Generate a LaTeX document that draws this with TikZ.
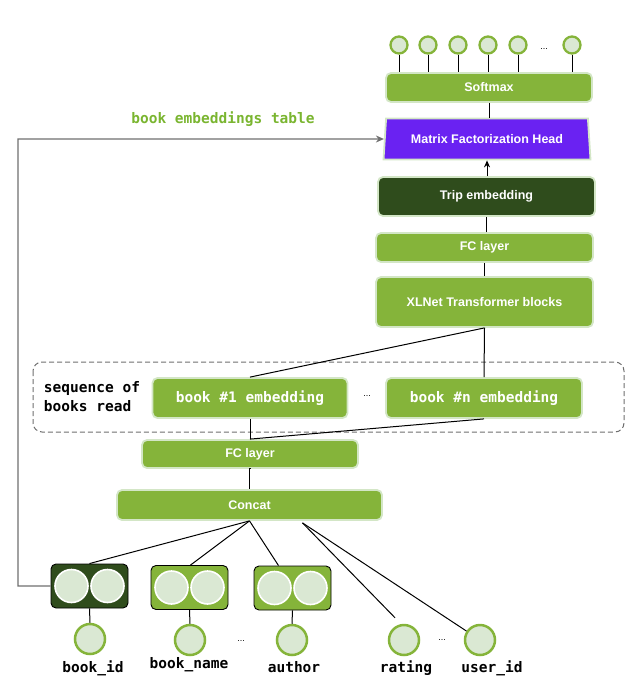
\documentclass[tikz,border=0pt]{standalone}
\usepackage{fontspec}
\setmainfont{Liberation Sans}
\newfontfamily\monob{DejaVu Sans Mono}
\usetikzlibrary{shapes.geometric,arrows.meta,calc}
\definecolor{gfill}{HTML}{85B43A}
\definecolor{gedge}{HTML}{D3E6C6}
\definecolor{dgreen}{HTML}{2F4C1C}
\definecolor{purp}{HTML}{6A22F2}
\definecolor{cfill}{HTML}{DAE8D3}
\definecolor{tgreen}{HTML}{7AB530}
\definecolor{lgray}{HTML}{6E6E6E}
\begin{document}
\begin{tikzpicture}[x=1pt,y=-1pt,
  box/.style={draw=gedge, line width=1.8pt, fill=gfill, rounded corners=5pt, text=white,
    font=\bfseries\fontsize{12.5}{14}\selectfont, inner sep=0pt},
  monobox/.style={box, font=\monob\bfseries\fontsize{14.5}{16}\selectfont},
  darkbox/.style={box, fill=dgreen},
  featbox/.style={draw=black, line width=0.9pt, rounded corners=5pt, minimum width=77pt, minimum height=44pt, inner sep=0pt},
  incirc/.style={circle, draw=white, line width=1.6pt, fill=cfill, minimum size=33pt, inner sep=0pt},
  incircle/.style={circle, draw=gfill, line width=2.5pt, fill=cfill, minimum size=30pt, inner sep=0pt},
  outcircle/.style={circle, draw=gfill, line width=2.3pt, fill=cfill, minimum size=17pt, inner sep=0pt},
  conn/.style={draw=black, line width=1pt},
  lbl/.style={font=\monob\bfseries\fontsize{14.5}{16}\selectfont, text=black, inner sep=0pt},
  dots/.style={font=\fontsize{9}{10}\selectfont, inner sep=0pt}
]
\useasboundingbox (0,0) rectangle (639,682);

% top output circles
\foreach \i/\x in {1/399,2/428,3/458,4/488,5/518,6/572}{
  \node[outcircle] (o\i) at (\x,45) {};
}
\node[dots] (odots) at (544,49) {...};

% softmax and head
\node[box, minimum width=206pt, minimum height=29pt] (softmax) at (489,87.5) {Softmax};
\node[trapezium, trapezium stretches=true, trapezium left angle=78, trapezium right angle=78,
  minimum width=207pt, minimum height=41pt, fill=purp, draw=gedge, line width=1.8pt, text=white,
  font=\bfseries\fontsize{12.5}{14}\selectfont, inner sep=0pt] (mf) at (487,139) {Matrix Factorization Head};

\foreach \i in {1,...,6}{
  \draw[conn] (o\i.south) -- (o\i.south |- softmax.north);
}
\draw[conn] (softmax.south) -- (softmax.south |- mf.north);

% upper stack
\node[darkbox, minimum width=217pt, minimum height=39pt] (trip) at (486.5,196.5) {Trip embedding};
\node[box, minimum width=217pt, minimum height=29pt] (fctop) at (484.5,247.5) {FC layer};
\node[box, minimum width=217pt, minimum height=50pt] (xlnet) at (484.5,302) {XLNet Transformer blocks};

\draw[conn, -{Stealth[length=7pt,width=6pt]}] (trip.north -| mf.south) -- (mf.south);
\draw[conn] (fctop.north -| trip.south) -- (trip.south);
\draw[conn] (xlnet.north -| fctop.south) -- (fctop.south);

% sequence box
\draw[lgray, line width=1pt, dashed, dash pattern=on 5pt off 3pt, rounded corners=9pt] (33,362) rectangle (624,432);
\node[lbl, align=left] (seq) at (92,397) {sequence of\\[3pt]books read};
\node[monobox, minimum width=195pt, minimum height=40pt] (b1) at (250,398) {book \#1 embedding};
\node[monobox, minimum width=196pt, minimum height=40pt] (bn) at (484,398) {book \#n embedding};
\node[dots] (bdots) at (367,396) {...};

\draw[conn] (xlnet.south) -- (b1.north);
\draw[conn] (xlnet.south) -- (bn.north);

% lower stack
\node[box, minimum width=216pt, minimum height=28pt] (fclow) at (250,454) {FC layer};
\node[box, minimum width=265pt, minimum height=30pt] (concat) at (249.5,505) {Concat};
\draw[conn] (b1.south) -- (fclow.north);
\draw[conn] (bn.south) -- (fclow.north);
\draw[conn] (fclow.south) -- (concat.south |- fclow.south) -- (concat.north);

% feature embedding boxes
\node[featbox, fill=dgreen] (bidbox) at (89.5,586) {};
\node[featbox, fill=gfill] (bnamebox) at (189.5,587.5) {};
\node[featbox, fill=gfill] (authbox) at (292.5,588) {};
\foreach \b in {bidbox,bnamebox,authbox}{
  \node[incirc] (\b l) at ($(\b.center)+(-18,0)$) {};
  \node[incirc] (\b r) at ($(\b.center)+(18,0)$) {};
}

% input circles
\node[incircle] (bid) at (90,639) {};
\node[incircle] (bname) at (190,640) {};
\node[incircle] (auth) at (292,640) {};
\node[incircle] (rating) at (404,640) {};
\node[incircle] (uid) at (480,640) {};
\node[dots] (d1) at (241,641) {...};
\node[dots] (d2) at (442,640) {...};

\draw[conn] (bidbox.south) -- (bid.north);
\draw[conn] (bnamebox.south) -- (bname.north);
\draw[conn] (authbox.south) -- (auth.north);

% labels
\node[lbl] (lbid) at (93,668) {book\_id};
\node[lbl] (lbname) at (189,665) {book\_name};
\node[lbl] (lauth) at (294,667) {author};
\node[lbl] (lrating) at (406,668) {rating};
\node[lbl] (luid) at (492,668) {user\_id};

% concat fan-out
\coordinate (cs2) at ($(concat.south)+(53,2)$);
\coordinate (rend) at ($(rating.north)+(-9,-6)$);
\draw[conn] (concat.south) -- (bidbox.north);
\draw[conn] (concat.south) -- ($(bnamebox.north)+(1,0)$);
\draw[conn] (concat.south) -- ($(authbox.north)+(-14,0)$);
\draw[conn] (cs2) -- (rend);
\draw[conn] (cs2) -- (uid);

% embedding table arrow
\node[font=\monob\bfseries\fontsize{14.5}{16}\selectfont, text=tgreen, inner sep=0pt] (tbl) at (223,119) {book embeddings table};
\coordinate (lft) at (18,139);
\draw[lgray, line width=1.3pt, -{Stealth[length=8pt,width=7pt]}] (bidbox.west) -| (lft) -- (mf.west);
\end{tikzpicture}
\end{document}
